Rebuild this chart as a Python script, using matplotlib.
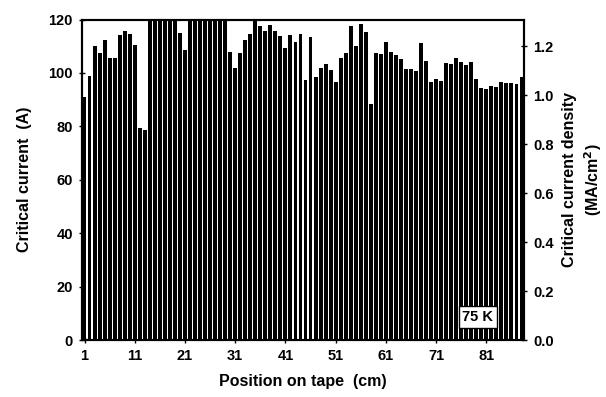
import matplotlib
matplotlib.use("Agg")
import matplotlib.pyplot as plt
import numpy as np

plt.rcParams['font.family'] = ['Liberation Sans', 'DejaVu Sans']
plt.rcParams['font.weight'] = 'bold'

positions = list(range(1, 89))
current = [
    91.0, 98.8, 109.9, 107.6, 112.2, 105.5, 105.5, 114.3, 115.8, 114.7,
    110.5, 79.3, 78.6, 125, 125, 125, 125, 125, 125, 115.0,
    108.6, 125, 125, 125, 125, 125, 125, 125, 125, 107.8,
    101.7, 107.4, 112.4, 114.7, 120.5, 117.5, 115.6, 118.1, 115.6, 114.0,
    109.3, 114.3, 111.5, 114.6, 97.2, 113.3, 98.3, 101.7, 103.3, 101.1,
    96.6, 105.7, 107.4, 117.7, 109.9, 118.4, 115.3, 88.4, 107.4, 107.1,
    111.5, 108.0, 106.7, 105.2, 101.3, 101.3, 100.7, 111.2, 104.5, 96.6,
    97.9, 97.0, 103.6, 103.2, 105.7, 104.2, 103.0, 104.0, 97.9, 94.5,
    94.1, 95.1, 94.8, 96.6, 96.3, 96.3, 96.0, 98.5,
]
xtick_vals = [1, 11, 21, 31, 41, 51, 61, 71, 81]
left_ticks = [0, 20, 40, 60, 80, 100, 120]
right_ticks = [0.0, 0.2, 0.4, 0.6, 0.8, 1.0, 1.2]
right_max = 1.31

fig = plt.figure(figsize=(6.06, 3.97), dpi=100)
W, H = 606, 397
x0, x1, y0, y1 = 82, 524, 340, 19.5
ax = fig.add_axes([x0 / W, 1 - y0 / H, (x1 - x0) / W, (y0 - y1) / H])

ax.bar(positions, current, width=0.78, color='black', edgecolor='none')
ax.set_xlim(0.5, len(positions) + 0.5)
ax.set_ylim(0, 120)
ax.set_xticks(xtick_vals)
ax.set_xticklabels([str(v) for v in xtick_vals])
ax.set_yticks(left_ticks)
ax.tick_params(axis='both', direction='inout', length=5, width=1, labelsize=10.5, pad=4)
for s in ax.spines.values():
    s.set_linewidth(1.5)
    s.set_color('black')

ax.set_xlabel('Position on tape  (cm)', fontsize=11.5, fontweight='bold', labelpad=8)
ax.set_ylabel('Critical current  (A)', fontsize=11.5, fontweight='bold', labelpad=12)

ax2 = ax.twinx()
ax2.set_ylim(0, right_max)
ax2.set_yticks(right_ticks)
ax2.set_yticklabels([f'{v:.1f}' for v in right_ticks])
ax2.tick_params(axis='y', direction='inout', length=5, width=1, labelsize=10.5, pad=4)
ax2.set_ylabel('Critical current density\n(MA/cm$^\\mathbf{2}$)', fontsize=11.5,
               fontweight='bold', labelpad=6, linespacing=1.3)
for s in ax2.spines.values():
    s.set_linewidth(1.5)

ax.text((478 - x0) / (x1 - x0), (y0 - 317) / (y0 - y1), '75 K', transform=ax.transAxes,
        ha='center', va='center', fontsize=10.5, fontweight='bold', color='black',
        bbox=dict(boxstyle='square,pad=0.25', facecolor='white', edgecolor='black', linewidth=1))

fig.savefig('out.png', dpi=100, facecolor='white')
